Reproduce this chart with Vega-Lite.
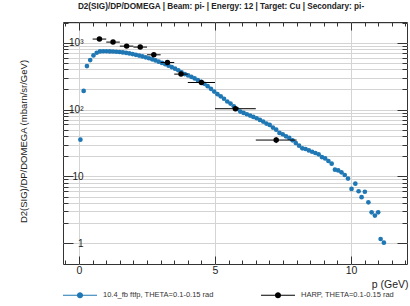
{
  "$schema": "https://vega.github.io/schema/vega-lite/v6.json",
  "width": 344,
  "height": 242,
  "autosize": "none",
  "padding": {"left": 63, "top": 22, "right": 3, "bottom": 42},
  "background": "white",
  "title": {"text": "D2(SIG)/DP/DOMEGA | Beam: pi- | Energy: 12 | Target: Cu | Secondary: pi-", "fontSize": 8.2, "font": "Liberation Sans", "fontWeight": "bold", "color": "#222", "offset": 6, "dx": -14},
  "config": {"view": {"stroke": "#333", "strokeWidth": 1}, "font": "Liberation Sans"},
  "datasets": {
    "ftfp": [
      {"p": 0.05, "v": 35.5}, {"p": 0.17, "v": 190}, {"p": 0.29, "v": 447}, {"p": 0.41, "v": 550},
      {"p": 0.53, "v": 646}, {"p": 0.65, "v": 708}, {"p": 0.77, "v": 741}, {"p": 0.89, "v": 745},
      {"p": 1.01, "v": 745}, {"p": 1.13, "v": 741}, {"p": 1.25, "v": 738}, {"p": 1.37, "v": 733},
      {"p": 1.49, "v": 726}, {"p": 1.61, "v": 716}, {"p": 1.73, "v": 705}, {"p": 1.85, "v": 692},
      {"p": 1.97, "v": 676}, {"p": 2.09, "v": 659}, {"p": 2.21, "v": 641}, {"p": 2.33, "v": 624},
      {"p": 2.45, "v": 605}, {"p": 2.57, "v": 586}, {"p": 2.69, "v": 565}, {"p": 2.81, "v": 543},
      {"p": 2.93, "v": 521}, {"p": 3.05, "v": 499}, {"p": 3.17, "v": 476}, {"p": 3.29, "v": 454},
      {"p": 3.41, "v": 432}, {"p": 3.53, "v": 409}, {"p": 3.65, "v": 387}, {"p": 3.77, "v": 359},
      {"p": 3.89, "v": 339}, {"p": 4.01, "v": 324}, {"p": 4.13, "v": 309}, {"p": 4.25, "v": 292},
      {"p": 4.37, "v": 275}, {"p": 4.49, "v": 260}, {"p": 4.61, "v": 243}, {"p": 4.73, "v": 224},
      {"p": 4.85, "v": 204}, {"p": 4.97, "v": 186}, {"p": 5.09, "v": 170}, {"p": 5.21, "v": 158},
      {"p": 5.33, "v": 145}, {"p": 5.45, "v": 132}, {"p": 5.57, "v": 123}, {"p": 5.69, "v": 112},
      {"p": 5.81, "v": 102}, {"p": 5.93, "v": 93.3}, {"p": 6.05, "v": 89.1}, {"p": 6.17, "v": 85.1},
      {"p": 6.29, "v": 81.3}, {"p": 6.41, "v": 77.6}, {"p": 6.53, "v": 74.1}, {"p": 6.65, "v": 70.0},
      {"p": 6.77, "v": 66.1}, {"p": 6.89, "v": 61.7}, {"p": 7.01, "v": 58.9}, {"p": 7.13, "v": 53.7},
      {"p": 7.25, "v": 50.1}, {"p": 7.37, "v": 44.7}, {"p": 7.49, "v": 42.7}, {"p": 7.61, "v": 39.8},
      {"p": 7.73, "v": 37.6}, {"p": 7.85, "v": 34.7}, {"p": 7.97, "v": 31.6}, {"p": 8.09, "v": 28.8},
      {"p": 8.21, "v": 26.3}, {"p": 8.33, "v": 25.7}, {"p": 8.45, "v": 24.5}, {"p": 8.57, "v": 23.4},
      {"p": 8.69, "v": 22.4}, {"p": 8.81, "v": 21.4}, {"p": 8.93, "v": 19.5}, {"p": 9.05, "v": 18.6},
      {"p": 9.17, "v": 17.0}, {"p": 9.29, "v": 15.5}, {"p": 9.41, "v": 12.6}, {"p": 9.53, "v": 12.3},
      {"p": 9.65, "v": 11.5}, {"p": 9.77, "v": 10.5}, {"p": 9.89, "v": 9.3}, {"p": 10.02, "v": 6.5},
      {"p": 10.16, "v": 7.8}, {"p": 10.28, "v": 6.0}, {"p": 10.39, "v": 4.9}, {"p": 10.51, "v": 5.9},
      {"p": 10.64, "v": 4.1}, {"p": 10.76, "v": 2.9}, {"p": 10.88, "v": 2.6}, {"p": 11.0, "v": 2.9},
      {"p": 11.09, "v": 1.16}, {"p": 11.21, "v": 1.02}
    ],
    "harp": [
      {"p": 0.75, "pmin": 0.5, "pmax": 1.0, "v": 1133, "lo": 1060, "hi": 1210},
      {"p": 1.25, "pmin": 1.0, "pmax": 1.5, "v": 1021, "lo": 960, "hi": 1085},
      {"p": 1.75, "pmin": 1.5, "pmax": 2.0, "v": 889, "lo": 835, "hi": 945},
      {"p": 2.25, "pmin": 2.0, "pmax": 2.5, "v": 860, "lo": 808, "hi": 915},
      {"p": 2.75, "pmin": 2.5, "pmax": 3.0, "v": 659, "lo": 620, "hi": 700},
      {"p": 3.25, "pmin": 3.0, "pmax": 3.5, "v": 506, "lo": 475, "hi": 538},
      {"p": 3.75, "pmin": 3.5, "pmax": 4.0, "v": 339, "lo": 318, "hi": 360},
      {"p": 4.5, "pmin": 4.0, "pmax": 5.0, "v": 254, "lo": 238, "hi": 270},
      {"p": 5.75, "pmin": 5.0, "pmax": 6.5, "v": 103, "lo": 95, "hi": 111},
      {"p": 7.25, "pmin": 6.5, "pmax": 8.0, "v": 35, "lo": 31.5, "hi": 38.5}
    ]
  },
  "layer": [
    {
      "data": {"name": "harp"},
      "mark": {"type": "circle", "size": 1, "opacity": 0},
      "encoding": {
        "x": {"field": "p", "type": "quantitative",
          "axis": {"orient": "top", "values": [0, 5, 10], "grid": true, "gridColor": "#d4d4d4", "gridWidth": 1,
            "labels": false, "ticks": false, "domain": false, "title": null}},
        "y": {"field": "v", "type": "quantitative", "axis": null}
      }
    },
    {
      "data": {"name": "ftfp"},
      "mark": {"type": "circle", "size": 22, "opacity": 1},
      "encoding": {
        "x": {"field": "p", "type": "quantitative",
          "scale": {"domain": [-0.59, 12.06], "nice": false, "zero": false},
          "axis": {"orient": "bottom",
            "values": [-0.5, 0, 0.5, 1, 1.5, 2, 2.5, 3, 3.5, 4, 4.5, 5, 5.5, 6, 6.5, 7, 7.5, 8, 8.5, 9, 9.5, 10, 10.5, 11, 11.5, 12],
            "labelExpr": "datum.value == 0 ? '0' : datum.value == 5 ? '5' : datum.value == 10 ? '10' : ''",
            "labelOverlap": false,
            "domain": false,
            "grid": false,
            "tickColor": "#333",
            "tickSize": {"condition": {"test": "datum.value == 0 || datum.value == 5 || datum.value == 10", "value": -8}, "value": -4},
            "labelFontSize": 10.5, "labelColor": "#222", "labelPadding": 9, "labelFlush": false,
            "title": "p (GeV)", "titleFontSize": 10.5, "titleFontWeight": "normal", "titleColor": "#222",
            "titleAnchor": "end", "titleAlign": "right", "titleX": 345, "titleY": 23, "titleBaseline": "alphabetic"}},
        "y": {"field": "v", "type": "quantitative",
          "scale": {"type": "log", "domain": [0.49, 2040], "nice": false},
          "axis": {"orient": "left",
            "values": [1, 2, 3, 4, 5, 6, 7, 8, 9, 10, 20, 30, 40, 50, 60, 70, 80, 90, 100, 200, 300, 400, 500, 600, 700, 800, 900, 1000, 2000],
            "labelExpr": "datum.value == 1000 ? '10³' : datum.value == 100 ? '10²' : datum.value == 10 ? '10' : datum.value == 1 ? '1' : ''",
            "labelOverlap": false,
            "domain": false,
            "grid": true, "gridColor": "#d4d4d4", "gridWidth": 1,
            "tickColor": "#333",
            "tickSize": {"condition": {"test": "datum.value == 1 || datum.value == 10 || datum.value == 100 || datum.value == 1000", "value": -10}, "value": -5},
            "labelFontSize": 10, "labelColor": "#222", "labelPadding": -10,
            "title": "D2(SIG)/DP/DOMEGA (mbarn/sr/GeV)", "titleFontSize": 9.5, "titleFontWeight": "normal", "titleColor": "#222",
            "titleX": -40, "titleY": 119, "titleAngle": -90, "titleAlign": "center", "titleBaseline": "middle"}},
        "color": {"datum": "10.4_fb ftfp, THETA=0.1-0.15 rad", "type": "nominal",
          "scale": {"domain": ["10.4_fb ftfp, THETA=0.1-0.15 rad", "HARP, THETA=0.1-0.15 rad"], "range": ["#1f77b4", "#000000"]},
          "legend": {"orient": "none", "legendX": 0, "legendY": 256, "direction": "horizontal", "title": null,
            "symbolType": "M-1,-0.035L-0.17,-0.035L-0.17,0.035L-1,0.035Z M0.17,-0.035L1,-0.035L1,0.035L0.17,0.035Z M-0.18,0A0.18,0.18,0,1,1,0.18,0A0.18,0.18,0,1,1,-0.18,0Z",
            "symbolSize": 1156, "symbolStrokeWidth": 0,
            "labelFontSize": 7.5, "labelColor": "#333", "labelOffset": 6, "columnPadding": 47, "labelLimit": 300,
            "encode": {"symbols": {"update": {"fill": {"scale": "color", "field": "value"}, "opacity": {"value": 1}, "fillOpacity": {"value": 1}}}}}}
      }
    },
    {
      "data": {"name": "harp"},
      "mark": {"type": "rule", "color": "#000", "strokeWidth": 1},
      "encoding": {
        "x": {"field": "pmin", "type": "quantitative", "axis": null},
        "x2": {"field": "pmax"},
        "y": {"field": "v", "type": "quantitative", "axis": null}
      }
    },
    {
      "data": {"name": "harp"},
      "mark": {"type": "rule", "color": "#000", "strokeWidth": 1},
      "encoding": {
        "x": {"field": "p", "type": "quantitative", "axis": null},
        "y": {"field": "lo", "type": "quantitative", "axis": null},
        "y2": {"field": "hi"}
      }
    },
    {
      "data": {"name": "harp"},
      "mark": {"type": "circle", "size": 30, "opacity": 1},
      "encoding": {
        "x": {"field": "p", "type": "quantitative", "axis": null},
        "y": {"field": "v", "type": "quantitative", "axis": null},
        "color": {"datum": "HARP, THETA=0.1-0.15 rad", "type": "nominal"}
      }
    },
    {
      "data": {"name": "harp"},
      "mark": {"type": "circle", "size": 1, "opacity": 0},
      "encoding": {
        "x": {"field": "p", "type": "quantitative",
          "axis": {"orient": "top",
            "values": [-0.5, 0, 0.5, 1, 1.5, 2, 2.5, 3, 3.5, 4, 4.5, 5, 5.5, 6, 6.5, 7, 7.5, 8, 8.5, 9, 9.5, 10, 10.5, 11, 11.5, 12],
            "labels": false, "domain": false, "grid": false, "title": null, "tickColor": "#333",
            "tickSize": {"condition": {"test": "datum.value == 0 || datum.value == 5 || datum.value == 10", "value": -8}, "value": -4}}},
        "y": {"field": "v", "type": "quantitative",
          "axis": {"orient": "right",
            "values": [1, 2, 3, 4, 5, 6, 7, 8, 9, 10, 20, 30, 40, 50, 60, 70, 80, 90, 100, 200, 300, 400, 500, 600, 700, 800, 900, 1000, 2000],
            "labels": false, "domain": false, "grid": false, "title": null, "tickColor": "#333",
            "tickSize": {"condition": {"test": "datum.value == 1 || datum.value == 10 || datum.value == 100 || datum.value == 1000", "value": -10}, "value": -5}}}
      }
    }
  ],
  "resolve": {"axis": {"x": "independent", "y": "independent"}}
}
